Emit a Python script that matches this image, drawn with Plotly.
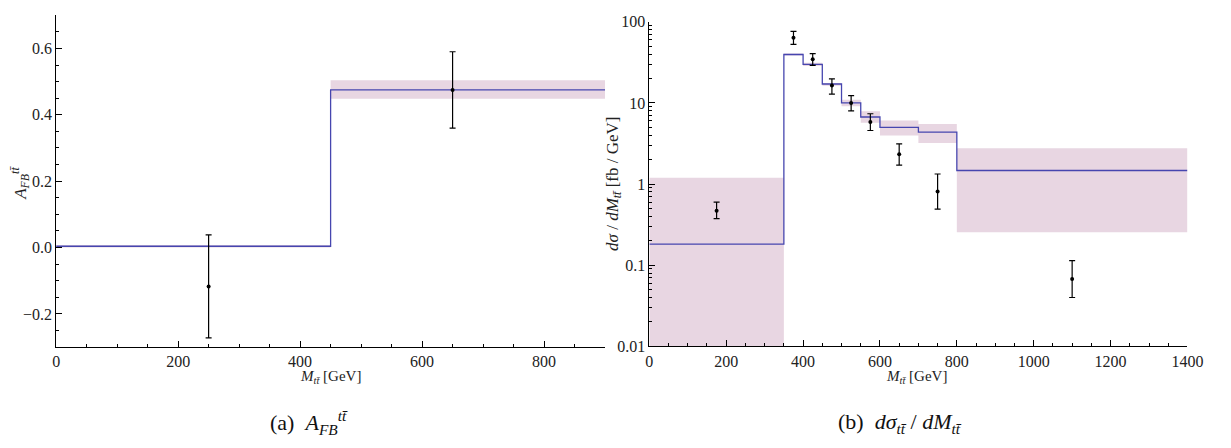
import plotly.graph_objects as go

W, H = 1231, 448

# ---------------- data: (a) A_FB ----------------
afb_edges = [0, 450, 900]
afb_theory = [0.004, 0.475]
afb_band_lo = [0.0, 0.448]
afb_band_hi = [0.008, 0.504]
afb_data_x = [250, 650]
afb_data_y = [-0.117, 0.475]
afb_data_err = [0.155, 0.115]

# ---------------- data: (b) dsigma/dM ----------------
xs_edges = [0, 350, 400, 450, 500, 550, 600, 700, 800, 1400]
xs_theory = [0.182, 39.5, 29.8, 17.1, 10.0, 6.7, 5.0, 4.37, 1.47]
xs_band_lo = [0.01, 38.5, 28.5, 16.3, 9.1, 5.7, 3.98, 3.2, 0.255]
xs_band_hi = [1.2, 40.5, 31.2, 17.6, 10.9, 7.9, 6.07, 5.48, 2.77]
xs_data_x = [175, 375, 425, 475, 525, 575, 650, 750, 1100]
xs_data_y = [0.47, 63.5, 34.5, 16.4, 10.0, 5.8, 2.33, 0.81, 0.0675]
xs_data_hi = [0.60, 76, 40.6, 19.8, 12.3, 7.35, 3.12, 1.33, 0.114]
xs_data_lo = [0.375, 52.5, 29, 12.8, 7.96, 4.57, 1.71, 0.49, 0.040]

BAND = "rgb(232,214,226)"
LINE = "rgb(70,70,175)"
FONT = "Liberation Serif"


def band_xy(edges, lo, hi):
    bx, by = [], []
    for i in range(len(lo)):
        x0, x1 = edges[i], edges[i + 1]
        bx += [x0, x1, x1, x0, x0, None]
        by += [lo[i], lo[i], hi[i], hi[i], lo[i], None]
    return bx, by


fig = go.Figure()

# (a)
bx, by = band_xy(afb_edges, afb_band_lo, afb_band_hi)
fig.add_trace(go.Scatter(x=bx, y=by, mode="lines", fill="toself", fillcolor=BAND,
                         line=dict(width=0, color=BAND), xaxis="x", yaxis="y",
                         hoverinfo="skip"))
fig.add_trace(go.Scatter(x=afb_edges, y=afb_theory + [afb_theory[-1]], mode="lines",
                         line=dict(shape="hv", color=LINE, width=1.3), xaxis="x", yaxis="y"))
fig.add_trace(go.Scatter(x=afb_data_x, y=afb_data_y, mode="markers",
                         marker=dict(color="black", size=4),
                         error_y=dict(type="data", array=afb_data_err, color="black",
                                      thickness=1.2, width=3),
                         xaxis="x", yaxis="y"))

# (b)
bx, by = band_xy(xs_edges, xs_band_lo, xs_band_hi)
fig.add_trace(go.Scatter(x=bx, y=by, mode="lines", fill="toself", fillcolor=BAND,
                         line=dict(width=0, color=BAND), xaxis="x2", yaxis="y2",
                         hoverinfo="skip"))
fig.add_trace(go.Scatter(x=xs_edges, y=xs_theory + [xs_theory[-1]], mode="lines",
                         line=dict(shape="hv", color=LINE, width=1.3), xaxis="x2", yaxis="y2"))
fig.add_trace(go.Scatter(x=xs_data_x, y=xs_data_y, mode="markers",
                         marker=dict(color="black", size=4),
                         error_y=dict(type="data", symmetric=False,
                                      array=[h - v for h, v in zip(xs_data_hi, xs_data_y)],
                                      arrayminus=[v - l for l, v in zip(xs_data_lo, xs_data_y)],
                                      color="black", thickness=1.2, width=3),
                         xaxis="x2", yaxis="y2"))

axis_common = dict(showline=True, linecolor="black", linewidth=1, showgrid=False,
                   zeroline=False, ticks="inside", ticklen=6, tickcolor="black",
                   tickfont=dict(family=FONT, size=16, color="#222"), mirror=False)

minor_log = []
for p in [0.01, 0.1, 1, 10]:
    for m in range(2, 10):
        minor_log.append(p * m)


def px(x):
    return x / W


def py(y):
    return 1 - y / H


fig.update_layout(
    width=W, height=H, margin=dict(l=0, r=0, t=0, b=0),
    paper_bgcolor="white", plot_bgcolor="white", showlegend=False,
    xaxis=dict(domain=[px(53), px(611)], range=[0, 900], anchor="y",
               tickvals=[0, 200, 400, 600, 800], ticktext=["0", "200", "400", "600", "800"],
               minor=dict(ticks="inside", ticklen=3, dtick=50, tick0=0, tickcolor="black"),
               **axis_common),
    yaxis=dict(domain=[py(352.5), py(7.5)], range=[-0.3, 0.7], anchor="x",
               tickvals=[-0.2, 0.0, 0.2, 0.4, 0.6],
               ticktext=["\u22120.2", "0.0", "0.2", "0.4", "0.6"],
               minor=dict(ticks="inside", ticklen=3, dtick=0.05, tick0=0, tickcolor="black"),
               **axis_common),
    xaxis2=dict(domain=[px(656), px(1203)], range=[0, 1400], anchor="y2",
                tickvals=[0, 200, 400, 600, 800, 1000, 1200, 1400],
                ticktext=["0", "200", "400", "600", "800", "1000", "1200", "1400"],
                minor=dict(ticks="inside", ticklen=3, dtick=50, tick0=0, tickcolor="black"),
                **axis_common),
    yaxis2=dict(domain=[py(351.7), py(14.3)], type="log", range=[-2, 2], anchor="x2",
                tickvals=[0.01, 0.1, 1, 10, 100], ticktext=["0.01", "0.1", "1", "10", "100"],
                minor=dict(ticks="inside", ticklen=3, tickvals=minor_log, tickcolor="black"),
                **axis_common),
)

ann_font = dict(family=FONT, size=15, color="#222")
ylab_font = dict(family=FONT, size=17, color="#222")
cap_font = dict(family=FONT, size=22, color="#111")


def note(x, y, text, font, angle=0):
    fig.add_annotation(x=px(x), y=py(y), xref="paper", yref="paper", showarrow=False,
                       xanchor="center", yanchor="middle", textangle=angle,
                       text=text, font=font)


note(332, 384, "<i>M</i><sub><i>tt\u0304</i></sub> [GeV]", ann_font)
note(928, 384, "<i>M</i><sub><i>tt\u0304</i></sub> [GeV]", ann_font)
note(16, 182, "<i>A</i><sub><i>FB</i></sub><sup><i>tt\u0304</i></sup>", ylab_font, -90)
note(620, 183, "<i>d\u03c3</i> / <i>dM</i><sub><i>tt\u0304</i></sub> [fb / GeV]", ylab_font, -90)
note(310, 431, "(a)  <i>A</i><sub><i>FB</i></sub><sup><i>tt\u0304</i></sup>", cap_font)
note(911, 431, "(b)  <i>d\u03c3</i><sub><i>tt\u0304</i></sub> / <i>dM</i><sub><i>tt\u0304</i></sub>",
     cap_font)

fig.write_html("out.html")
